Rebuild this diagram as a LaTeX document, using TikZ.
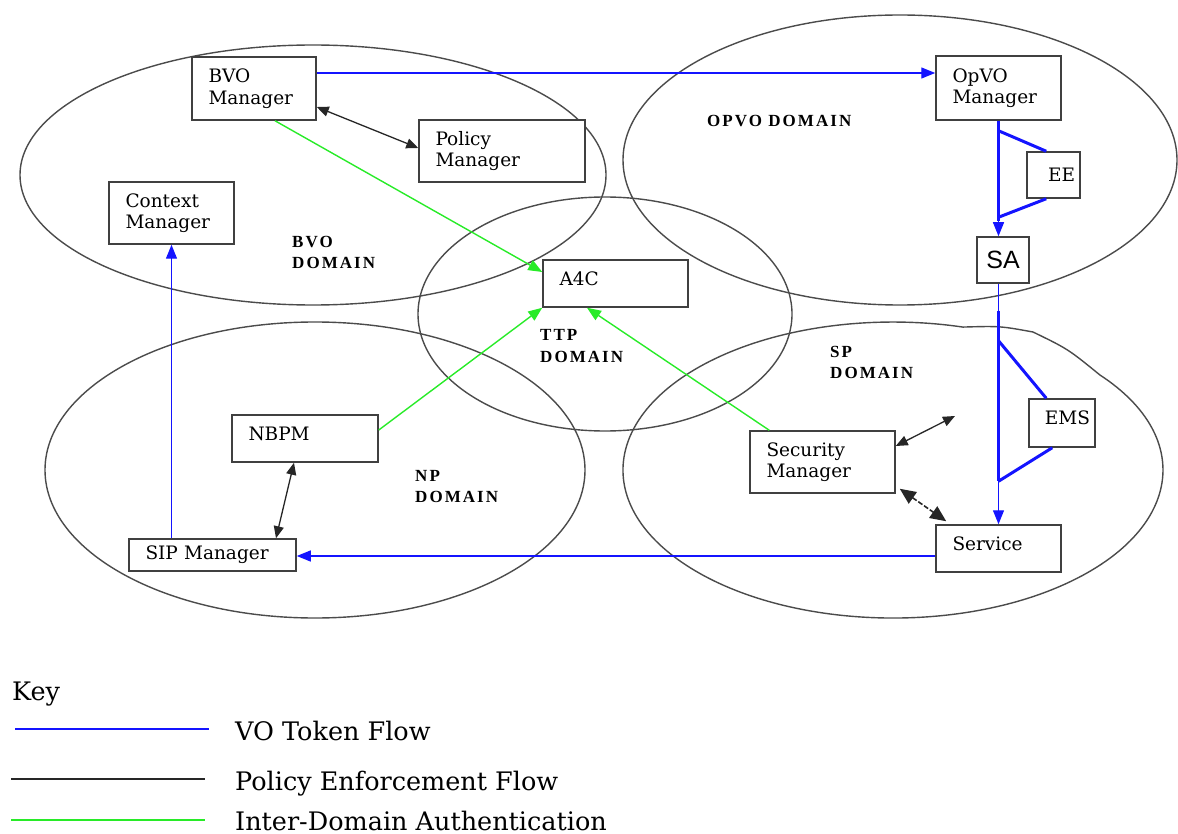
\documentclass[tikz,border=0pt]{standalone}
\usepackage{fontspec}
\setmainfont{DejaVu Serif}
\usetikzlibrary{arrows.meta}
\newfontfamily\boxfamily{DejaVu Serif}
\newfontfamily\domfamily[LetterSpace=12]{Liberation Serif}
\newfontfamily\safamily{Liberation Sans}
\newcommand\boxfont{\fontsize{18.5}{21.5}\boxfamily}
\newcommand\domfont{\fontsize{17}{21}\domfamily\bfseries}
\newcommand\keyfont{\fontsize{25.5}{30}\boxfamily}
\definecolor{tokenblue}{RGB}{20,20,255}
\definecolor{authgreen}{RGB}{40,235,40}
\definecolor{outline}{RGB}{75,75,75}
\begin{document}
\begin{tikzpicture}[x=1pt,y=-1pt,
  domainline/.style={draw=outline,line width=1.4pt},
  box/.style={draw=black!75,line width=1.5pt,fill=white,inner xsep=16.5pt,
    inner ysep=0pt,align=left,font=\boxfont},
  dlabel/.style={font=\domfont,align=left,anchor=base west,inner sep=0pt},
  keytext/.style={font=\keyfont,anchor=base west,inner sep=0pt},
  token/.style={draw=tokenblue,line width=1.3pt},
  tokenthick/.style={draw=tokenblue,line width=3pt},
  policy/.style={draw=black!85,line width=1.3pt},
  auth/.style={draw=authgreen,line width=1.4pt},
  tip/.style={-{Triangle[length=14pt,width=11pt]}},
  dtip/.style={{Triangle[length=12pt,width=10pt]}-{Triangle[length=12pt,width=10pt]}},
  bigdtip/.style={{Triangle[length=16pt,width=14pt]}-{Triangle[length=16pt,width=14pt]}},
  gtip/.style={-{Triangle[length=14pt,width=11pt]}}]
\useasboundingbox (0,0) rectangle (1178,834);

% domains
\draw[domainline] (313,175) ellipse [x radius=293, y radius=130];
\draw[domainline] (900,160) ellipse [x radius=277, y radius=145];
\draw[domainline] (605,314) ellipse [x radius=187, y radius=117];
\draw[domainline] (315,470) ellipse [x radius=270, y radius=148];
% SP domain outline, with its bent top edge
\draw[domainline] (1099.8,374.9) arc [start angle=-40, end angle=285, x radius=270, y radius=148]
  .. controls (1000,326) .. (1033,332) .. controls (1068,349) .. cycle;

% domain names (anchored at the baseline of the last line)
\node[dlabel] (bvodom) at (292,269) {BVO\\DOMAIN};
\node[dlabel] (opvodom) at (707,127) {OPVO DOMAIN};
\node[dlabel] (ttpdom) at (540,362) {TTP\\DOMAIN};
\node[dlabel] (npdom) at (415,502) {NP\\DOMAIN};
\node[dlabel] (spdom) at (830,378) {SP\\DOMAIN};

% components
\node[box,minimum width=124pt,minimum height=63pt,text width=91pt] (bvo) at (254,88.5) {BVO\\Manager};
\node[box,minimum width=166pt,minimum height=62pt,text width=133pt] (pol) at (502,151) {Policy\\Manager};
\node[box,minimum width=125pt,minimum height=62pt,text width=92pt] (ctx) at (171.5,213) {Context\\Manager};
\node[box,minimum width=145pt,minimum height=47pt,text width=112pt,text depth=10pt] (a4c) at (615.5,283.5) {A4C};
\node[box,minimum width=146pt,minimum height=47pt,text width=113pt,text depth=10pt] (nbpm) at (305,438.5) {NBPM};
\node[box,minimum width=167pt,minimum height=32pt,text width=134pt] (sip) at (212.5,555) {SIP Manager};
\node[box,minimum width=125pt,minimum height=64pt,text width=92pt] (opvo) at (998.5,88) {OpVO\\Manager};
\node[box,inner xsep=5pt,minimum width=53pt,minimum height=46pt,text width=43pt,align=right] (ee) at (1053.5,175) {EE};
\node[box,inner xsep=0pt,minimum width=52pt,minimum height=46pt,align=center,
  font={\fontsize{25}{28}\safamily}] (sa) at (1003,260) {SA};
\node[box,inner xsep=5pt,minimum width=66pt,minimum height=48pt,text width=56pt,align=right,text depth=10pt] (ems) at (1062,423) {EMS};
\node[box,minimum width=125pt,minimum height=47pt,text width=92pt,text depth=10pt] (svc) at (998.5,548.5) {Service};
\node[box,minimum width=145pt,minimum height=62pt,text width=112pt] (sec) at (822.5,462) {Security\\Manager};

% VO token flow
\coordinate (t1) at ([yshift=15.5pt]bvo.east);
\draw[token,tip] (t1) -- (t1 -| opvo.west);
\draw[token,tip] (ctx.south |- sip.north) -- (ctx.south);
\coordinate (t3) at ([yshift=-7.5pt]svc.west);
\draw[token,tip] (t3) -- (t3 -| sip.east);
\coordinate (ea) at (opvo.south |- sa.north);
\draw[token,tip] (opvo.south) -- (ea);
\draw[tokenthick] (opvo.south) -- ([yshift=15pt]ea);
\draw[tokenthick] ([yshift=-10pt]opvo.south) -- ([xshift=20pt]ee.north west);
\draw[tokenthick] ([yshift=19pt]ea) -- ([xshift=20pt]ee.south west);
\coordinate (eb) at (svc.north |- sa.south);
\draw[token,tip] (eb) -- (svc.north);
\draw[tokenthick] ([yshift=-27pt]eb) -- ([yshift=43pt]svc.north);
\draw[tokenthick] ([yshift=-57pt]eb) -- ([xshift=18pt]ems.north west);
\draw[tokenthick] ([yshift=43pt]svc.north) -- ([xshift=24pt]ems.south west);

% policy enforcement flow
\draw[policy,dtip] ([yshift=-18.5pt]bvo.east) -- ([yshift=3pt]pol.west);
\draw[policy,dtip] ([xshift=-11pt]nbpm.south) -- ([xshift=63.5pt]sip.north);
\coordinate (free) at (955,416);
\draw[policy,dtip] ([yshift=16pt]sec.east) -- (free);
\draw[policy,line width=1.6pt,dash pattern=on 5pt off 2pt,bigdtip]
  ([shift={(4pt,5pt)}]sec.south east) -- ([shift={(11pt,3pt)}]svc.north west);

% inter-domain authentication
\draw[auth,gtip] ([xshift=21pt]bvo.south) -- ([yshift=11.5pt]a4c.west);
\draw[auth,gtip] ([yshift=8.5pt]nbpm.east) -- (a4c.south west);
\draw[auth,gtip] ([xshift=20pt]sec.north west) -- ([xshift=-28.5pt]a4c.south);

% key
\node[keytext] (key) at (12,700) {Key};
\node[keytext] (k1) at (235,740) {VO Token Flow};
\node[keytext] (k2) at (235,790) {Policy Enforcement Flow};
\node[keytext] (k3) at (235,830) {Inter-Domain Authentication};
\coordinate (k1a) at (15,729);  \coordinate (k1b) at (209,729);
\coordinate (k2a) at (11,779);  \coordinate (k2b) at (205,779);
\coordinate (k3a) at (11,820);  \coordinate (k3b) at (205,820);
\draw[token] (k1a) -- (k1b);
\draw[policy] (k2a) -- (k2b);
\draw[auth] (k3a) -- (k3b);
\end{tikzpicture}
\end{document}
